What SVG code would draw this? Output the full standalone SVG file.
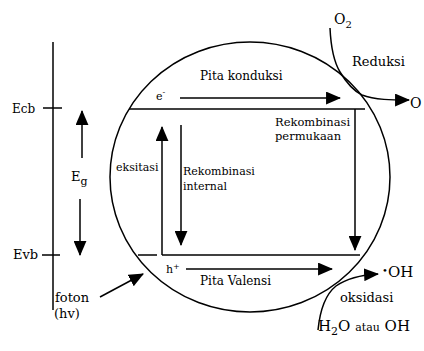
<svg xmlns="http://www.w3.org/2000/svg" width="424" height="351" viewBox="0 0 424 351">
<defs>
<style>
.ln{stroke:#000;stroke-width:1.5;fill:none}
</style>
<marker id="ah" viewBox="0 0 14 12" refX="13" refY="6" markerWidth="15" markerHeight="13" markerUnits="userSpaceOnUse" orient="auto">
<path d="M0,0 L14,6 L0,12 Z" fill="#000"/>
</marker>
</defs>
<rect width="424" height="351" fill="#fff"/>
<g id="energy-axis" font-family="DejaVu Serif" fill="#000">
<line class="ln" x1="53" y1="42" x2="53" y2="310"/>
<line class="ln" x1="43" y1="108" x2="62" y2="108"/>
<line class="ln" x1="42" y1="255" x2="60" y2="255"/>
<text x="12" y="113" font-size="12">Ecb</text>
<text x="13" y="259" font-size="13">Evb</text>
<text x="71" y="181" font-size="13">E<tspan font-size="11" dy="4">g</tspan></text>
<text x="55" y="302" font-size="13">foton</text>
<text x="54" y="318" font-size="13">(hv)</text>
</g>
<g id="particle" font-family="DejaVu Serif" fill="#000">
<ellipse class="ln" cx="250" cy="177" rx="140" ry="135"/>
<line class="ln" x1="129" y1="109" x2="365" y2="109"/>
<line class="ln" x1="138" y1="255" x2="157" y2="255"/>
<line class="ln" x1="162" y1="255" x2="360" y2="255"/>
<text x="200" y="80" font-size="12">Pita konduksi</text>
<text x="156" y="100" font-size="11">e<tspan font-size="8" dy="-5">-</tspan></text>
<text x="166" y="273" font-size="11">h<tspan font-size="8" dy="-4">+</tspan></text>
<text x="200" y="285" font-size="12">Pita Valensi</text>
<text x="116" y="171" font-size="11">eksitasi</text>
<text x="183" y="175" font-size="11">Rekombinasi</text>
<text x="183" y="190" font-size="11">internal</text>
<text x="275" y="126" font-size="11.5">Rekombinasi</text>
<text x="275" y="140" font-size="11.5">permukaan</text>
</g>
<g id="reduction" font-family="DejaVu Serif" fill="#000">
<text x="334" y="24" font-size="14">O<tspan font-size="10" dy="4">2</tspan></text>
<text x="352" y="66" font-size="13">Reduksi</text>
<text x="410" y="108" font-size="14">O</text>
</g>
<g id="oxidation" font-family="DejaVu Serif" fill="#000">
<text x="382" y="277" font-size="15"><tspan font-size="10" dy="-3">•</tspan><tspan dy="3">OH</tspan></text>
<text x="340" y="302" font-size="13">oksidasi</text>
<text x="318" y="331" font-size="15">H<tspan font-size="11" dy="4">2</tspan><tspan dy="-4">O</tspan> <tspan font-size="11">atau</tspan> OH</text>
</g>
<g id="connectors">
<line class="ln" x1="180" y1="98" x2="340" y2="98" marker-end="url(#ah)"/>
<line class="ln" x1="186" y1="269" x2="332" y2="269" marker-end="url(#ah)"/>
<line class="ln" x1="162" y1="255" x2="162" y2="127" marker-end="url(#ah)"/>
<line class="ln" x1="181" y1="125" x2="181" y2="245" marker-end="url(#ah)"/>
<line class="ln" x1="355" y1="109" x2="355" y2="250" marker-end="url(#ah)"/>
<line class="ln" x1="82" y1="158" x2="82" y2="111" marker-end="url(#ah)"/>
<line class="ln" x1="80" y1="199" x2="80" y2="255" marker-end="url(#ah)"/>
<line class="ln" x1="100" y1="297" x2="143" y2="274" marker-end="url(#ah)"/>
<path class="ln" d="M330,28 C331,50 334,62 340,72 C346,82 352,90 362,95 C375,100 392,100 409,100" marker-end="url(#ah)"/>
<path class="ln" d="M318,330 C320,310 326,294 336,286 C346,279 360,275 378,274" marker-end="url(#ah)"/>
</g>
</svg>
